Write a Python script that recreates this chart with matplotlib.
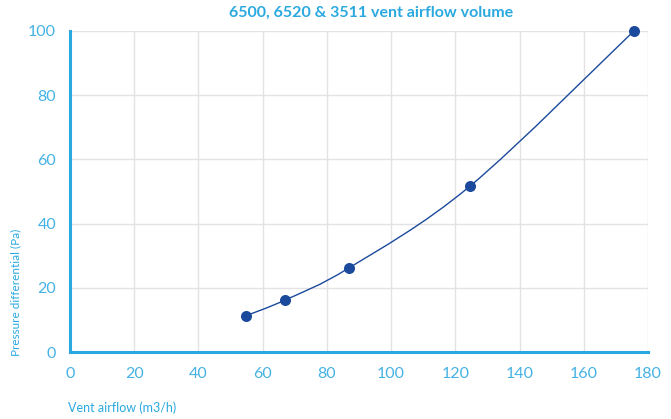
"""
Vent airflow vs pressure differential (6500, 6520 & 3511).
"""

import numpy as np
import matplotlib
matplotlib.use('Agg')
import matplotlib.pyplot as plt
from matplotlib.path import Path
from matplotlib.patches import PathPatch

airflow = [54.8, 67.0, 86.9, 124.6, 175.6]
pressure = [11.3, 16.2, 26.2, 51.7, 100.0]
x_ticks = [0, 20, 40, 60, 80, 100, 120, 140, 160, 180]
y_ticks = [0, 20, 40, 60, 80, 100]

BLUE = '#2aa9e0'
DOT = '#1b4a9c'
GRID = '#e3e3e3'

plt.rcParams['font.family'] = ['Lato', 'DejaVu Sans']

fig = plt.figure(figsize=(6.71, 4.19), dpi=100)
ax = fig.add_axes([70 / 671, (419 - 352) / 419, 578 / 671, 321 / 419])


def smooth_path(xs, ys, tension=1 / 6):
    # Catmull-Rom style bezier through the points (like a "smoothed line")
    pts = np.column_stack([xs, ys])
    verts = [pts[0]]
    codes = [Path.MOVETO]
    n = len(pts)
    for i in range(n - 1):
        p0 = pts[max(i - 1, 0)]
        p1 = pts[i]
        p2 = pts[i + 1]
        p3 = pts[min(i + 2, n - 1)]
        c1 = p1 + (p2 - p0) * tension
        c2 = p2 - (p3 - p1) * tension
        verts += [c1, c2, p2]
        codes += [Path.CURVE4] * 3
    return Path(verts, codes)


ax.add_patch(PathPatch(smooth_path(airflow, pressure), fill=False,
                       edgecolor=DOT, lw=1.0, zorder=3))
ax.scatter(airflow, pressure, s=48, color=DOT, zorder=4, clip_on=False)

ax.set_xlim(0, 180)
ax.set_ylim(0, 100)
ax.set_xticks(x_ticks)
ax.set_yticks(y_ticks)
ax.grid(True, color=GRID, lw=1)
ax.set_axisbelow(True)

for s in ['top', 'right']:
    ax.spines[s].set_visible(False)
for s in ['left', 'bottom']:
    ax.spines[s].set_color(BLUE)
    ax.spines[s].set_linewidth(2.2)

ax.tick_params(length=0, colors='#45b2e4', labelsize=11.5)
ax.tick_params(axis='x', pad=11)
ax.tick_params(axis='y', pad=10)

fig.text(371 / 671, 1 - 13 / 419, '6500, 6520 & 3511 vent airflow volume',
         ha='center', va='center', color=BLUE, fontsize=11.5, fontweight='bold')
fig.text(68 / 671, 1 - 408 / 419, 'Vent airflow (m3/h)', ha='left',
         va='center', color=BLUE, fontsize=9)
fig.text(16 / 671, 1 - 356 / 419, 'Pressure differential (Pa)', ha='center',
         va='bottom', rotation=90, color=BLUE, fontsize=8.5)

fig.savefig('out.png', dpi=100)
plt.close(fig)
